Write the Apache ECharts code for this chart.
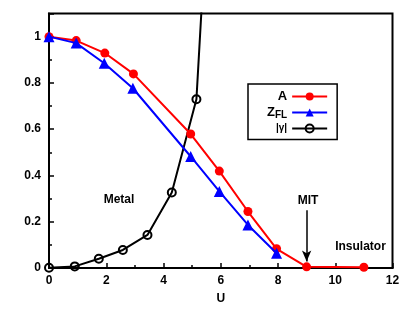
<!DOCTYPE html>
<html><head><meta charset="utf-8">
<script src="https://cdn.jsdelivr.net/npm/echarts@6/dist/echarts.min.js"></script>
<style>html,body{margin:0;padding:0;background:#fff}#c{width:415px;height:310px}</style>
</head><body><div id="c"></div>
<script>
var seriesA = [[0,1],[0.95,0.983],[1.95,0.929],[2.95,0.839],[4.95,0.579],[5.95,0.419],[6.95,0.244],[7.95,0.083],[9,0.005],[11,0.003]];
var seriesZ = [[0,1],[0.95,0.972],[1.93,0.885],[2.93,0.777],[4.95,0.482],[5.95,0.331],[6.95,0.186],[7.95,0.064]];
var seriesG = [[0,0.001],[0.9,0.007],[1.74,0.04],[2.58,0.078],[3.44,0.143],[4.29,0.326],[5.15,0.729],[6.0,2.58]];
var xTicks = {min:0, max:12, interval:2};
var yTicks = {min:0, max:1.1, interval:0.2};
var arrowMIT = {x:9, from:0.25, to:0.028};

var chart = echarts.init(document.getElementById('c'));
var font = 'Liberation Sans, Arial, sans-serif';
chart.setOption({
  animation:false,
  textStyle:{fontFamily:font},
  grid:{left:49, right:22.5, top:13.5, bottom:40, show:true, borderColor:'#000', borderWidth:2},
  xAxis:{type:'value', min:xTicks.min, max:xTicks.max, interval:xTicks.interval,
    name:'U', nameLocation:'middle', nameGap:25,
    nameTextStyle:{color:'#000', fontWeight:'bold', fontSize:12, fontFamily:font},
    axisLine:{lineStyle:{color:'#000', width:2}},
    axisTick:{inside:true, length:5, lineStyle:{color:'#000', width:1.5}},
    minorTick:{show:true, splitNumber:2, length:3, lineStyle:{color:'#000', width:1.5}},
    splitLine:{show:false},
    axisLabel:{color:'#000', fontWeight:'bold', fontSize:12, margin:7, fontFamily:font}},
  yAxis:{type:'value', min:yTicks.min, max:yTicks.max, interval:yTicks.interval,
    axisLine:{lineStyle:{color:'#000', width:2}},
    axisTick:{inside:true, length:5, lineStyle:{color:'#000', width:1.5}},
    minorTick:{show:true, splitNumber:2, length:3, lineStyle:{color:'#000', width:1.5}},
    splitLine:{show:false},
    axisLabel:{color:'#000', fontWeight:'bold', fontSize:12, margin:8, fontFamily:font, showMaxLabel:false,
      formatter:function(v){return String(Math.round(v*10)/10);}}},
  legend:{orient:'vertical', align:'right', left:248, top:84,
    borderColor:'#000', borderWidth:1.5, borderRadius:0,
    padding:[6,9,6,19], itemGap:3, itemWidth:35, itemHeight:10,
    textStyle:{color:'#000', fontWeight:'bold', fontSize:12, fontFamily:font,
      rich:{b:{fontWeight:'bold', fontSize:13, color:'#000'}, s:{fontWeight:'bold', fontSize:10, color:'#000', verticalAlign:'bottom', padding:[6,0,0,0]}, g:{fontSize:10, color:'#000'}}},
    formatter:function(n){ if(n==='A') return '{b|A}'; if(n==='Z') return '{b|Z}{s|FL}'; return '{g||γ|}'; },
    data:['A','Z','G']},
  graphic:[
    {type:'text', x:119, y:200, style:{text:'Metal', font:'bold 12px '+font, fill:'#000', textAlign:'center', textVerticalAlign:'middle'}},
    {type:'text', x:308, y:200.5, style:{text:'MIT', font:'bold 12px '+font, fill:'#000', textAlign:'center', textVerticalAlign:'middle'}},
    {type:'text', x:360.5, y:246.5, style:{text:'Insulator', font:'bold 12px '+font, fill:'#000', textAlign:'center', textVerticalAlign:'middle'}}
  ],
  series:[
    {name:'A', type:'line', data:seriesA, color:'#ff0000', symbol:'circle', symbolSize:9,
      lineStyle:{width:2, color:'#ff0000'}, itemStyle:{color:'#ff0000'}, z:3,
      markLine:{silent:true, symbol:['none','arrow'], symbolSize:[7,11], label:{show:false},
        lineStyle:{color:'#000', width:1.5, type:'solid'},
        data:[[{coord:[arrowMIT.x, arrowMIT.from]},{coord:[arrowMIT.x, arrowMIT.to]}]]}},
    {name:'Z', type:'line', data:seriesZ, color:'#0000ff', symbol:'triangle', symbolSize:11,
      lineStyle:{width:2, color:'#0000ff'}, itemStyle:{color:'#0000ff'}, z:4},
    {name:'G', type:'line', data:seriesG, color:'#000', symbol:'circle', symbolSize:8, clip:true,
      lineStyle:{width:2, color:'#000'}, itemStyle:{color:'rgba(0,0,0,0)', borderColor:'#000', borderWidth:2}, z:2}
  ]
});
</script></body></html>
